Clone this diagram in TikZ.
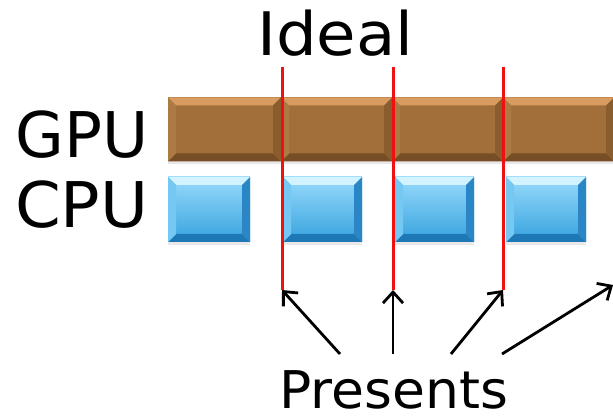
\documentclass[tikz,border=0pt]{standalone}
\usepackage{fontspec}
\setmainfont{DejaVu Sans}
\usetikzlibrary{arrows.meta,shadows}

\definecolor{gpuMain}{HTML}{A26E3A}
\definecolor{gpuTop}{HTML}{D99C60}
\definecolor{gpuBot}{HTML}{764D25}
\definecolor{gpuLeft}{HTML}{AC7A45}
\definecolor{gpuRight}{HTML}{8A5D2F}
\definecolor{cpuHi}{HTML}{98DAFB}
\definecolor{cpuLo}{HTML}{36A2DE}
\definecolor{cpuTop}{HTML}{D2F3FF}
\definecolor{cpuBot}{HTML}{1D78B5}
\definecolor{cpuLeft}{HTML}{74C8F2}
\definecolor{cpuRight}{HTML}{2A86C4}
\definecolor{marker}{HTML}{F01010}

\tikzset{
  % bevelled block: #1 top, #2 bottom, #3 left, #4 right facet colours
  bevel/.style n args={4}{
    path picture={
      \def\bb{path picture bounding box}
      \fill[#1] (\bb.north west) -- (\bb.north east)
        -- ([xshift=-8pt,yshift=-8pt]\bb.north east)
        -- ([xshift=8pt,yshift=-8pt]\bb.north west) -- cycle;
      \fill[#2] (\bb.south west) -- (\bb.south east)
        -- ([xshift=-8pt,yshift=8pt]\bb.south east)
        -- ([xshift=8pt,yshift=8pt]\bb.south west) -- cycle;
      \fill[#3] (\bb.north west) -- (\bb.south west)
        -- ([xshift=8pt,yshift=8pt]\bb.south west)
        -- ([xshift=8pt,yshift=-8pt]\bb.north west) -- cycle;
      \fill[#4] (\bb.north east) -- (\bb.south east)
        -- ([xshift=-8pt,yshift=8pt]\bb.south east)
        -- ([xshift=-8pt,yshift=-8pt]\bb.north east) -- cycle;
    }},
  gpublock/.style={rectangle, inner sep=0pt, minimum height=64pt,
    fill=gpuMain, bevel={gpuTop}{gpuBot}{gpuLeft}{gpuRight},
    drop shadow={shadow xshift=0pt, shadow yshift=-3pt, opacity=0.18}},
  cpublock/.style={rectangle, inner sep=0pt, minimum width=80pt, minimum height=65pt,
    top color=cpuHi, bottom color=cpuLo,
    bevel={cpuTop}{cpuBot}{cpuLeft}{cpuRight},
    drop shadow={shadow xshift=0pt, shadow yshift=-3pt, opacity=0.18}},
  label/.style={inner sep=0pt, anchor=base west, text=black},
  vsync/.style={draw=marker, line width=3pt},
  pointer/.style={draw=black, line width=2.8pt,
    -{Straight Barb[length=11pt,width=20pt,line width=2.8pt]}}
}

\begin{document}
\begin{tikzpicture}[x=1pt, y=-1pt]
  \useasboundingbox (0,0) rectangle (613,419);

  % row labels and headings
  \node[label, font=\fontsize{60}{60}\selectfont, xscale=1.07, transform shape] (ideal) at (257,56) {Ideal};
  \node[label, font=\fontsize{63}{63}\selectfont] (gpu) at (15,158) {GPU};
  \node[label, font=\fontsize{63}{63}\selectfont, xscale=1.04, transform shape] (cpu) at (15,228) {CPU};
  \node[label, font=\fontsize{52}{52}\selectfont, xscale=1.03, transform shape] (pres) at (279,409) {Presents};

  % GPU frames
  \node[gpublock, minimum width=113pt] (g1) at (224.5,129.5) {};
  \node[gpublock, minimum width=111pt] (g2) at (336.5,129.5) {};
  \node[gpublock, minimum width=111pt] (g3) at (447.5,129.5) {};
  \node[gpublock, minimum width=111pt] (g4) at (558.5,129.5) {};

  % CPU frames
  \node[cpublock, minimum width=82pt] (c1) at (209,209.5) {};
  \node[cpublock, minimum width=79pt] (c2) at (322.5,209.5) {};
  \node[cpublock, minimum width=79pt] (c3) at (434.5,209.5) {};
  \node[cpublock, minimum width=80pt] (c4) at (546,209.5) {};

  % present markers
  \coordinate (v1t) at (282,67);  \coordinate (v1b) at (282,290);
  \coordinate (v2t) at (393,67);  \coordinate (v2b) at (393,290);
  \coordinate (v3t) at (503,67);  \coordinate (v3b) at (503,290);
  \coordinate (v4b) at (613,285);
  \draw[vsync] (v1t) -- (v1b);
  \draw[vsync] (v2t) -- (v2b);
  \draw[vsync] (v3t) -- (v3b);

  % arrows from the label
  \coordinate (p1) at (340,354);
  \coordinate (p2) at (393,354);
  \coordinate (p3) at (451,354);
  \coordinate (p4) at (502,354);
  \draw[pointer] (p1) -- (v1b);
  \draw[pointer] (p2) -- (v2b);
  \draw[pointer] (p3) -- (v3b);
  \draw[pointer] (p4) -- (v4b);
\end{tikzpicture}
\end{document}
